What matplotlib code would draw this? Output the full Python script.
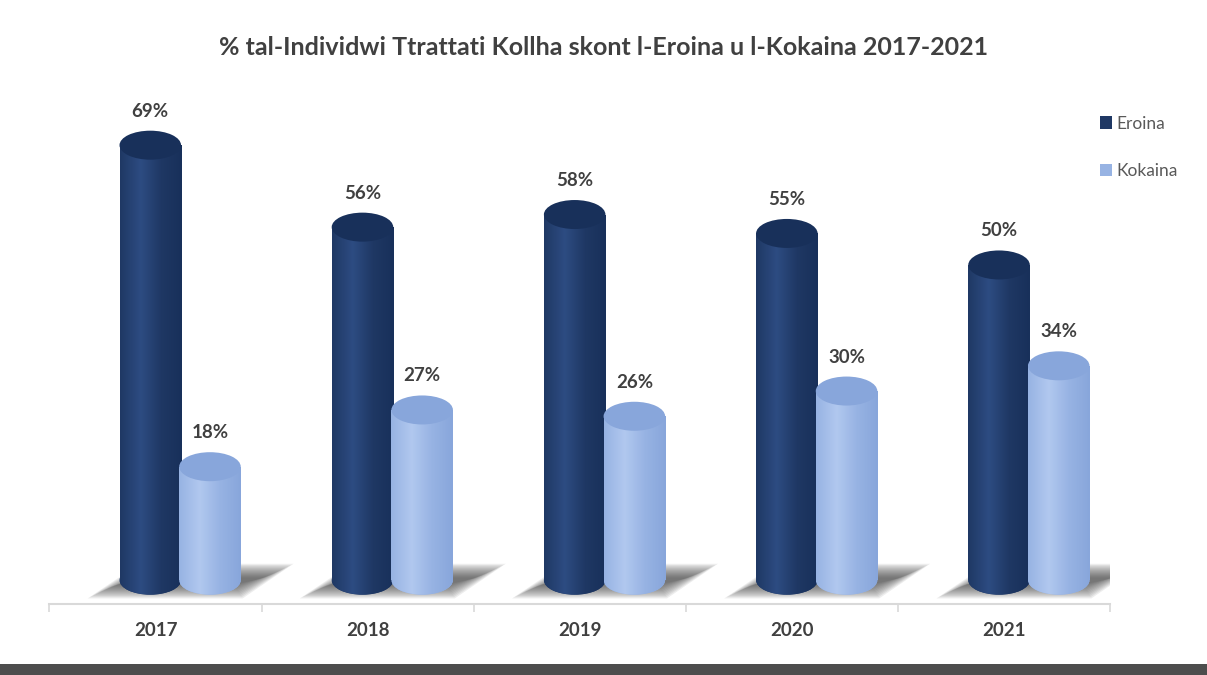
import numpy as np
import matplotlib
matplotlib.use('Agg')
import matplotlib.pyplot as plt
from matplotlib.patches import Ellipse, Polygon, Patch, Rectangle
from matplotlib.colors import LinearSegmentedColormap

# dati
snin = ['2017', '2018', '2019', '2020', '2021']
eroina = [69, 56, 58, 55, 50]
kokaina = [18, 27, 26, 30, 34]
serje = ['Eroina', 'Kokaina']

plt.rcParams['font.family'] = ['Lato', 'DejaVu Sans']

fig = plt.figure(figsize=(12.07, 6.75), dpi=100)
ax = fig.add_axes([0.041, 0.105, 0.879, 0.806])

ax.set_xlim(-0.5, 4.5)
ax.set_ylim(-3.8, 82.5)

wid = 0.29
el_h = 4.6
kul_eroina = ('#1f3864', '#18305a', '#2d4c82')
kul_kokaina = ('#97b3e3', '#88a6db', '#b1c8ef')

def cilindru(xc, val, kul):
    base, top_c, light = kul
    x0, x1 = xc - wid / 2, xc + wid / 2
    cmap = LinearSegmentedColormap.from_list('c', [base, light, base, top_c])
    grad = np.linspace(0, 1, 200).reshape(1, -1)
    # bottom ellipse
    e_bot = Ellipse((xc, 0), wid, el_h, facecolor=base, edgecolor='none', zorder=3)
    ax.add_patch(e_bot)
    im = ax.imshow(grad, extent=(x0, x1, -el_h / 2, 0), aspect='auto', cmap=cmap, zorder=3.1)
    im.set_clip_path(e_bot)
    body = Rectangle((x0, 0), wid, val, facecolor=base, edgecolor='none', zorder=3)
    ax.add_patch(body)
    im2 = ax.imshow(grad, extent=(x0, x1, 0, val), aspect='auto', cmap=cmap, zorder=3.1)
    im2.set_clip_path(body)
    ax.add_patch(Ellipse((xc, val), wid, el_h, facecolor=top_c, edgecolor='none', zorder=3.2))
    ax.text(xc, val + 5.4, f'{val}%', ha='center', va='center', fontsize=13.5,
            fontweight='bold', color='#404040', zorder=4)

x = np.arange(len(snin))
off_e = -0.025
off_k = off_e + wid * 0.97

# dell
for xi in x:
    x0 = xi + off_e - wid / 2
    for k in range(12):
        s = k * 0.012
        sv = k * 0.2
        pts = [(x0 - 0.15 + s, -2.9 + sv), (x0 + 0.58 - s * 0.3, -2.9 + sv),
               (x0 + 0.82 - s, 2.6 - sv), (x0 + 0.094 + s * 0.3, 2.6 - sv)]
        ax.add_patch(Polygon(pts, closed=True, facecolor='#3a3a3a', edgecolor='none',
                             alpha=0.09, zorder=2))

for xi, ve, vk in zip(x, eroina, kokaina):
    cilindru(xi + off_e, ve, kul_eroina)
    cilindru(xi + off_k, vk, kul_kokaina)

for s in ['top', 'right', 'left']:
    ax.spines[s].set_visible(False)
ax.spines['bottom'].set_color('#d9d9d9')
ax.spines['bottom'].set_linewidth(1.5)
ax.set_yticks([])
ax.set_xticks(x)
ax.set_xticklabels(snin, fontsize=13.5, fontweight='bold', color='#404040')
ax.tick_params(axis='x', which='major', length=0, pad=13)
ax.set_xticks(np.arange(-0.5, 5, 1), minor=True)
ax.tick_params(axis='x', which='minor', length=6, color='#d9d9d9', width=1.2)

fig.text(0.5, 0.929, '% tal-Individwi Ttrattati Kollha skont l-Eroina u l-Kokaina 2017-2021',
         ha='center', va='center', fontsize=18, fontweight='bold', color='#404040')

handles = [Patch(facecolor=kul_eroina[0]), Patch(facecolor=kul_kokaina[0])]
fig.legend(handles, serje, loc='upper left', bbox_to_anchor=(0.898, 0.852), frameon=False,
           handlelength=0.7, handleheight=0.7, handletextpad=0.3, labelspacing=1.8,
           fontsize=12.5, labelcolor='#595959')

fig.add_artist(Rectangle((0, 0), 1, 11 / 675, transform=fig.transFigure,
                         facecolor='#4d4d4d', edgecolor='none'))

fig.savefig('out.png', dpi=100)
